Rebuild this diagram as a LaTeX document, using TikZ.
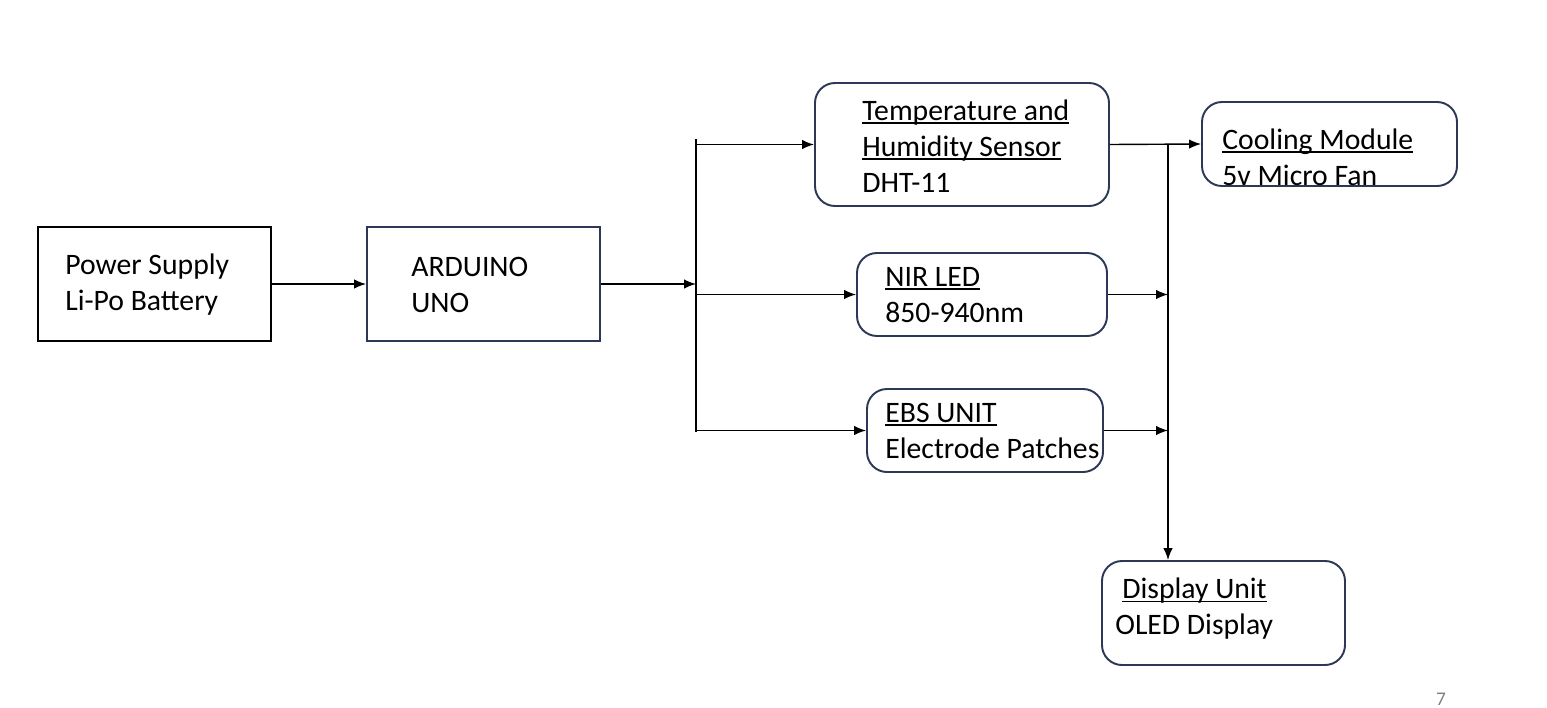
\documentclass[tikz,border=0pt]{standalone}
\usepackage{fontspec}
\setmainfont{Carlito}
\usetikzlibrary{arrows.meta}
\definecolor{boxnavy}{RGB}{44,56,86}
\newcommand{\undl}[1]{\setbox0\hbox{#1}\rlap{\rule[-0.12em]{\wd0}{0.065em}}\box0}

\begin{document}
\begin{tikzpicture}[
    blk/.style = {draw=boxnavy, line width=1.1pt, minimum width=#1},
    sqblk/.style = {blk=#1, rectangle},
    rblk/.style = {blk=#1, rectangle, rounded corners=0.4cm},
    txt/.style = {anchor=west, inner sep=0pt, align=left,
      font=\fontsize{16.9}{20.5}\selectfont},
    arr/.style = {-{Latex[length=2.4mm,width=1.9mm]}, line width=0.8pt}
  ]
    \useasboundingbox (0,0) rectangle (30.94,-14.14);

    \node[sqblk=4.66cm, draw=black, minimum height=2.28cm] (pwr) at (3.09,-5.68) {};
    \node[sqblk=4.66cm, minimum height=2.28cm] (ard) at (9.67,-5.68) {};
    \node[rblk=5.88cm, minimum height=2.46cm] (temp) at (19.24,-2.89) {};
    \node[rblk=5.10cm, minimum height=1.68cm] (cool) at (26.59,-2.88) {};
    \node[rblk=5.00cm, minimum height=1.66cm] (nir) at (19.64,-5.89) {};
    \node[rblk=4.72cm, minimum height=1.66cm] (ebs) at (19.70,-8.61) {};
    \node[rblk=4.86cm, minimum height=2.08cm] (disp) at (24.47,-12.26) {};

    \node[txt] (pwr-t) at (1.30,-5.70) {Power Supply\\Li-Po Battery};
    \node[txt] (ard-t) at (8.22,-5.70) {ARDUINO\\UNO};
    \node[txt] (temp-t) at (17.24,-2.92)
      {\undl{Temperature and}\\\undl{Humidity Sensor}\\DHT-11};
    \node[txt] (cool-t) at (24.44,-3.15) {\undl{Cooling Module}\\5v Micro Fan};
    \node[txt] (nir-t) at (17.70,-5.90) {\undl{NIR LED}\\850-940nm};
    \node[txt] (ebs-t) at (17.70,-8.61) {\undl{EBS UNIT}\\Electrode Patches};
    \node[txt] (disp-t) at (22.30,-12.18)
      {\hspace*{0.14cm}\undl{Display Unit}\\OLED Display};
    \node[anchor=center, inner sep=0pt, text=gray, font=\fontsize{11}{13}\selectfont]
      (pg) at (28.82,-13.98) {7};

    \coordinate (busT) at (13.92,-2.78);
    \coordinate (busB) at (13.92,-8.64);
    \coordinate (j) at (23.36,-2.89);

    \draw[line width=0.8pt] (busT) -- (busB);
    \draw[arr] (pwr) -- (ard);
    \draw[arr] (ard.east) -- (ard.east -| busT);
    \draw[arr] (temp.west -| busT) -- (temp.west);
    \draw[arr] (nir.west -| busT) -- (nir.west);
    \draw[arr] (ebs.west -| busT) -- (ebs.west);
    \draw[arr] (temp.east) -- (cool.west);
    \draw[arr] (j) -- (j |- disp.north);
    \draw[arr] (nir.east) -- (nir.east -| j);
    \draw[arr] (ebs.east) -- (ebs.east -| j);
\end{tikzpicture}
\end{document}
